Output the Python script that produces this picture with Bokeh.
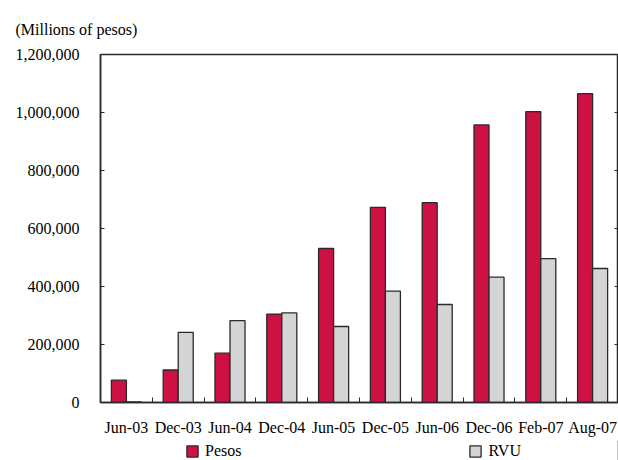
from bokeh.plotting import figure
from bokeh.models import (ColumnDataSource, Range1d, FixedTicker, LinearAxis,
                          NumeralTickFormatter, Legend, LegendItem, Title)
from bokeh.layouts import column
from bokeh.transform import dodge
from bokeh.embed import file_html
from bokeh.resources import INLINE
import numpy as np

categories = ["Jun-03", "Dec-03", "Jun-04", "Dec-04", "Jun-05",
              "Dec-05", "Jun-06", "Dec-06", "Feb-07", "Aug-07"]
pesos = [77000, 112000, 170000, 305000, 531000, 673000, 689000, 957000, 1003000, 1065000]
rvu = [2000, 242000, 282000, 309000, 262000, 384000, 338000, 432000, 496000, 462000]
y_ticks = [0, 200000, 400000, 600000, 800000, 1000000, 1200000]
series = ["Pesos", "RVU"]

FONT = "Liberation Serif"
RED = "#CD1142"
GREY = "#D3D4D6"
EDGE = "#2a2a2a"

centers = np.arange(len(categories)) + 0.5
source = ColumnDataSource(dict(x=centers, pesos=pesos, rvu=rvu))

p = figure(width=618, height=440, output_backend="svg", toolbar_location=None,
           x_range=Range1d(0, len(categories)), y_range=Range1d(0, 1200000),
           x_axis_location=None, y_axis_location=None,
           min_border_left=100, min_border_right=0, min_border_top=54, min_border_bottom=38)
p.xgrid.visible = False
p.ygrid.visible = False
p.outline_line_color = EDGE
p.outline_line_width = 1.5
p.background_fill_color = "white"
p.border_fill_color = "white"

p.vbar(x=dodge("x", -0.145), top="pesos", width=0.29, source=source,
       fill_color=RED, line_color=EDGE, line_width=1.3)
p.vbar(x=dodge("x", 0.145), top="rvu", width=0.29, source=source,
       fill_color=GREY, line_color=EDGE, line_width=1.3)

# left axis
yax = LinearAxis(ticker=FixedTicker(ticks=y_ticks),
                 formatter=NumeralTickFormatter(format="0,0"))
yax.major_tick_in = 4
yax.major_tick_out = 0
yax.minor_tick_line_color = None
yax.major_label_standoff = 21
yax.major_label_text_font = FONT
yax.major_label_text_font_size = "16px"
yax.major_label_text_color = "black"
yax.axis_line_color = EDGE
yax.axis_line_width = 1.5
yax.major_tick_line_color = EDGE
p.add_layout(yax, "left")

# right axis: inward ticks only
rax = LinearAxis(ticker=FixedTicker(ticks=y_ticks))
rax.major_label_overrides = {t: "" for t in y_ticks}
rax.major_tick_in = 4
rax.major_tick_out = 0
rax.minor_tick_line_color = None
rax.major_label_standoff = 0
rax.axis_line_color = EDGE
rax.major_tick_line_color = EDGE
p.add_layout(rax, "right")

# bottom axis: labels at category centres, ticks at boundaries
xax = LinearAxis(ticker=FixedTicker(ticks=list(centers),
                                    minor_ticks=list(np.arange(1, len(categories)))))
xax.major_label_overrides = {float(c): lab for c, lab in zip(centers, categories)}
xax.major_tick_line_color = None
xax.major_tick_in = 0
xax.major_tick_out = 0
xax.minor_tick_in = 5
xax.minor_tick_out = 0
xax.minor_tick_line_color = EDGE
xax.major_label_standoff = 16
xax.major_label_text_font = FONT
xax.major_label_text_font_size = "16px"
xax.major_label_text_color = "black"
xax.axis_line_color = EDGE
xax.axis_line_width = 1.5
p.add_layout(xax, "below")

title = Title(text="(Millions of pesos)", align="left", offset=-85,
              text_font=FONT, text_font_size="16px", text_font_style="normal",
              text_color="black", standoff=34)
p.add_layout(title, "above")

# legend strip below the chart (its frame is aligned with the chart frame)
lg = figure(width=618, height=20, output_backend="svg", toolbar_location=None,
            x_range=Range1d(0, 1), y_range=Range1d(0, 1),
            x_axis_location=None, y_axis_location=None,
            min_border_left=100, min_border_right=0, min_border_top=0, min_border_bottom=0)
lg.xgrid.visible = False
lg.ygrid.visible = False
lg.outline_line_color = None
lg.background_fill_color = "white"
lg.border_fill_color = "white"
swatch = ColumnDataSource(dict(x=[5], top=[5]))  # placed outside the view
lr1 = lg.vbar(x="x", top="top", width=0.1, source=swatch,
              fill_color=RED, line_color=EDGE, line_width=1.3)
lr2 = lg.vbar(x="x", top="top", width=0.1, source=swatch,
              fill_color=GREY, line_color=EDGE, line_width=1.3)
legend = Legend(items=[LegendItem(label=series[0], renderers=[lr1]),
                       LegendItem(label=series[1], renderers=[lr2])],
                orientation="horizontal", location=(85, 0),
                glyph_width=14, glyph_height=14, label_height=14,
                label_standoff=6, spacing=227, padding=0, margin=0,
                border_line_color=None, background_fill_alpha=0,
                label_text_font=FONT, label_text_font_size="16px",
                label_text_color="black")
lg.add_layout(legend, "center")

open("out.html", "w").write(file_html(column(p, lg, spacing=0), INLINE))
